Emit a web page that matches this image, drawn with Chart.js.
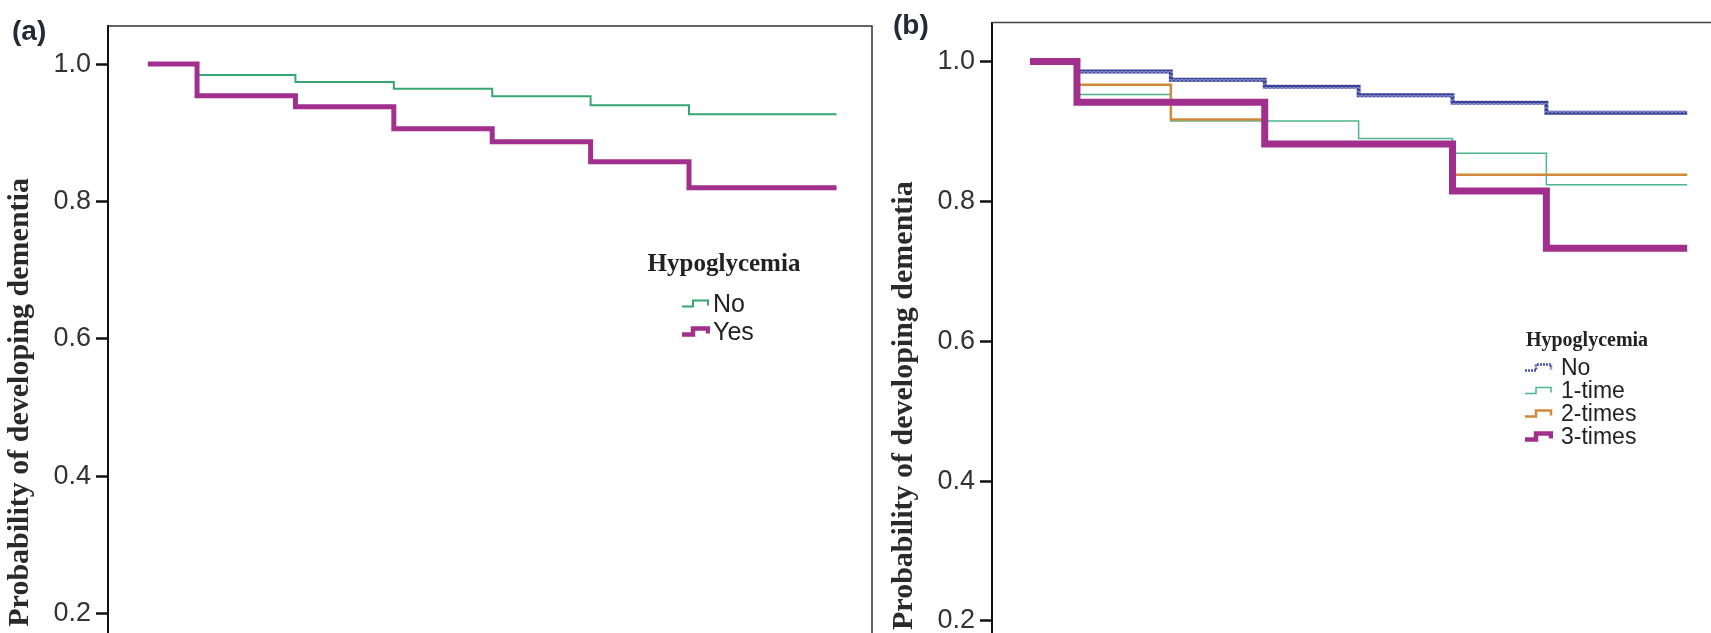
<!DOCTYPE html>
<html><head><meta charset="utf-8">
<script src="https://cdn.jsdelivr.net/npm/chart.js@4.4.1/dist/chart.umd.min.js"></script>
<style>
html,body{margin:0;padding:0;width:1711px;height:633px;overflow:hidden;background:#fff;}
#wrap{position:relative;width:1711px;height:633px;overflow:hidden;}
canvas{position:absolute;top:0;}
.plbl{position:absolute;font-family:'Liberation Sans',Arial,sans-serif;font-weight:bold;color:#262838;line-height:1;transform:translateY(-50%);white-space:nowrap;}
.ltitle{position:absolute;font-family:'Liberation Serif','Times New Roman',serif;font-weight:bold;color:#222;line-height:1;transform:translate(-50%,-50%);white-space:nowrap;}
.litem{position:absolute;display:flex;align-items:center;transform:translateY(-50%);font-family:'Liberation Sans',Arial,sans-serif;color:#222;line-height:1;white-space:nowrap;}
.litem svg{display:block;}
</style></head>
<body><div id="wrap">
<canvas id="ca" width="880" height="800" style="left:0px"></canvas>
<canvas id="cb" width="845" height="810" style="left:884px"></canvas>
</div>
<script>
// ---- data ----
const times = [0, 1, 3, 5, 7, 9, 11, 14];          // follow-up time (years)
const yTicks = [0, 0.2, 0.4, 0.6, 0.8, 1.0];
const yTitle = 'Probability of developing dementia';
const legendTitle = 'Hypoglycemia';

// panel (a)
const aNames = ['No', 'Yes'];
const aNo  = [1.0, 0.984, 0.974, 0.964, 0.953, 0.940, 0.927, 0.927];
const aYes = [1.0, 0.954, 0.938, 0.906, 0.887, 0.858, 0.820, 0.820];

// panel (b)
const bNames = ['No', '1-time', '2-times', '3-times'];
const bNo     = [1.0, 0.986, 0.974, 0.964, 0.952, 0.941, 0.927, 0.927];
const bOne    = [1.0, 0.953, 0.915, 0.915, 0.890, 0.869, 0.824, 0.824];
const bTwo    = [1.0, 0.967, 0.917, 0.880, 0.880, 0.838, 0.838, 0.838];
const bThree  = [1.0, 0.942, 0.942, 0.882, 0.882, 0.815, 0.733, 0.733];

// ---- styles ----
const AXIS_W = 108;
const SANS = "'Liberation Sans', Arial, sans-serif";
const SERIF = "'Liberation Serif', 'Times New Roman', serif";

function zigzag() {
  const c = document.createElement('canvas'); c.width = 4; c.height = 4;
  const g = c.getContext('2d');
  g.fillStyle = '#7f86c6'; g.fillRect(0, 0, 4, 4);
  g.strokeStyle = '#2f3890'; g.lineWidth = 1.6;
  g.beginPath(); g.moveTo(0, 3); g.lineTo(2, 1); g.lineTo(4, 3); g.stroke();
  return g.createPattern(c, 'repeat');
}

const pts = vals => times.map((t, i) => ({x: t, y: vals[i]}));

function ds(label, vals, color, width, order) {
  return {label, data: pts(vals), borderColor: color, borderWidth: width, stepped: 'before',
    pointRadius: 0, fill: false, order, borderCapStyle: 'butt', borderJoinStyle: 'miter'};
}

const framePlugin = {
  id: 'frame',
  afterDraw(chart, args, opts) {
    const {ctx, chartArea: {left, top, right, bottom}} = chart;
    ctx.save();
    ctx.strokeStyle = opts.color; ctx.lineWidth = opts.width;
    ctx.beginPath();
    ctx.moveTo(left, top); ctx.lineTo(right, top); ctx.lineTo(right, bottom + 20);
    ctx.stroke(); ctx.restore();
  }
};

function yAxis(min, max) {
  return {
    type: 'linear', position: 'left', min, max,
    afterBuildTicks: s => { s.ticks = yTicks.map(v => ({value: v})); },
    afterFit: s => { s.width = AXIS_W; },
    ticks: {callback: v => Number(v).toFixed(1), font: {family: SANS, size: 27}, color: '#333', padding: 5},
    grid: {drawOnChartArea: false, drawTicks: true, tickLength: 12, tickWidth: 2.5, tickColor: '#111'},
    border: {display: true, color: '#111', width: 2},
    title: {display: true, text: yTitle, font: {family: SERIF, size: 30, weight: 'bold'}, color: '#2a2a2a', padding: {top: 2, bottom: 0}}
  };
}

function makeChart(id, datasets, ymin, ymax, pad, frame) {
  return new Chart(document.getElementById(id), {
    type: 'line',
    data: {datasets},
    options: {
      responsive: false, animation: false,
      layout: {padding: pad},
      scales: {
        x: {type: 'linear', min: -0.81, max: 14.72, display: false},
        y: yAxis(ymin, ymax)
      },
      plugins: {legend: {display: false}, tooltip: {enabled: false}, frame}
    },
    plugins: [framePlugin]
  });
}

const cA = {green: '#35a672', mag: '#a02f8d'};
makeChart('ca', [
  ds(aNames[1], aYes, cA.mag, 5, 0),
  ds(aNames[0], aNo, cA.green, 2, 1)
], -0.04, 1.0554, {top: 26, right: 8, left: 0, bottom: 2.4}, {color: '#333', width: 1.5});

const cB = {blue: '#4a54a8', green: '#4db48c', orange: '#d0883a', mag: '#a02f8d'};
makeChart('cb', [
  ds(bNames[3], bThree, cB.mag, 7, 0),
  ds(bNames[2], bTwo, cB.orange, 2.5, 1),
  ds(bNames[0], bNo, zigzag(), 4, 2),
  ds(bNames[1], bOne, cB.green, 1.5, 3)
], -0.04, 1.0559, {top: 22.5, right: 8, left: 0, bottom: 7.2}, {color: '#444', width: 1.5});

// ---- HTML annotations (panel labels and legends) ----
const wrap = document.getElementById('wrap');
function addText(cls, text, x, y, size) {
  const d = document.createElement('div'); d.className = cls; d.textContent = text;
  d.style.left = x + 'px'; d.style.top = y + 'px'; d.style.fontSize = size + 'px';
  wrap.appendChild(d); return d;
}
function icon(color, width, dash) {
  return `<svg width="28" height="14" viewBox="0 0 28 14"><path d="M0,10 H11 V4 H26 V9" fill="none" stroke="${color}" stroke-width="${width}" ${dash ? 'stroke-dasharray="' + dash + '"' : ''} stroke-linejoin="miter"/></svg>`;
}
function addItem(x, y, size, gap, ic, text) {
  const d = document.createElement('div'); d.className = 'litem';
  d.style.left = x + 'px'; d.style.top = y + 'px'; d.style.fontSize = size + 'px';
  d.innerHTML = ic + `<span style="margin-left:${gap}px">${text}</span>`;
  wrap.appendChild(d);
}

addText('plbl', '(a)', 12, 31, 28);
addText('plbl', '(b)', 893, 25, 28);

addText('ltitle', legendTitle, 724, 262, 25);
addItem(682, 303, 25, 3, icon(cA.green, 2), aNames[0]);
addItem(682, 331, 25, 3, icon(cA.mag, 4.5), aNames[1]);

addText('ltitle', legendTitle, 1587, 339, 20);
const bIcons = [icon(cB.blue, 2.5, '2 1'), icon(cB.green, 1.5), icon(cB.orange, 2.5), icon(cB.mag, 4.5)];
const bRows = [367, 390, 413, 436];
bNames.forEach((n, i) => addItem(1525, bRows[i], 23, 8, bIcons[i], n));
</script>
</body></html>
